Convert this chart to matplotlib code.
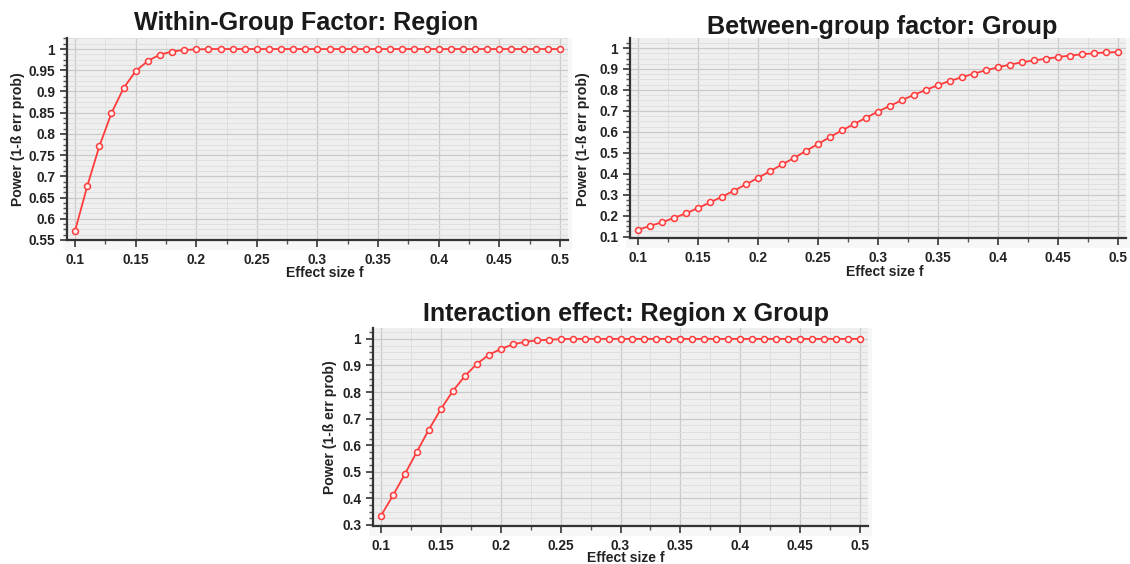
import numpy as np
import matplotlib
matplotlib.use("Agg")
import matplotlib.pyplot as plt
from matplotlib.patches import Rectangle
from matplotlib.ticker import MultipleLocator, AutoMinorLocator, FuncFormatter

plt.rcParams['font.family'] = ['Liberation Sans', 'DejaVu Sans']
plt.rcParams['font.weight'] = 'bold'

effect_size = [round(0.10 + 0.01 * i, 2) for i in range(41)]

power_region = [0.572, 0.677, 0.771, 0.849, 0.908, 0.948, 0.972, 0.987, 0.994, 0.998, 0.999] + [1.0] * 30

power_group = [0.132, 0.151, 0.168, 0.189, 0.211, 0.236, 0.263, 0.290, 0.319, 0.349,
               0.380, 0.412, 0.444, 0.475, 0.509, 0.542, 0.575, 0.607, 0.637, 0.667,
               0.697, 0.724, 0.751, 0.777, 0.800, 0.823, 0.843, 0.861, 0.878, 0.894,
               0.908, 0.921, 0.932, 0.941, 0.949, 0.957, 0.964, 0.970, 0.975, 0.979, 0.981]

power_interaction = [0.335, 0.411, 0.492, 0.576, 0.659, 0.736, 0.804, 0.860, 0.906, 0.940,
                     0.962, 0.979, 0.989, 0.994, 0.997, 0.999] + [1.0] * 25

titles = ["Within-Group Factor: Region", "Between-group factor: Group", "Interaction effect: Region x Group"]
xlabel = "Effect size f"
ylabel = "Power (1-ß err prob)"

W, H = 1130, 564
fig = plt.figure(figsize=(W / 100, H / 100), dpi=100)
fig.patch.set_facecolor('white')

def fx(px):
    return px / W

def fy(py):
    return 1 - py / H

panels = [
    dict(box=(67, 568, 38, 240), ylim=(0.55, 1.026), ymaj=0.05, data=power_region,
         title=(306, 30), xl=(325, 273), yl=(18, 139)),
    dict(box=(630, 1126, 38, 238), ylim=(0.093, 1.048), ymaj=0.1, data=power_group,
         title=(882, 34), xl=(885, 272), yl=(583, 139)),
    dict(box=(373, 868, 328, 526), ylim=(0.296, 1.041), ymaj=0.1, data=power_interaction,
         title=(626, 321), xl=(626, 558), yl=(330, 427)),
]

def fmt(v, pos):
    return f"{v:.2f}".rstrip('0').rstrip('.')

for i, p in enumerate(panels):
    l, r, t, b = p['box']
    # lighter frame around the plot area
    fig.patches.append(Rectangle((fx(l - 4), fy(b + 10)), fx(r + 4) - fx(l - 4), fy(t) - fy(b + 10),
                                 transform=fig.transFigure, facecolor='#f7f7f7',
                                 edgecolor='none', zorder=-5))
    ax = fig.add_axes([fx(l), fy(b), fx(r) - fx(l), fy(t) - fy(b)])
    ax.set_zorder(2)
    ax.set_facecolor('#efefef')
    ax.plot(effect_size, p['data'], color='#ff3b3b', lw=1.3, marker='o', ms=4.3,
            mfc='#fff0f0', mec='#ff3b3b', mew=1.1, zorder=3, clip_on=False)
    ax.set_xlim(0.0933, 0.5067)
    ax.set_ylim(*p['ylim'])
    ax.xaxis.set_major_locator(MultipleLocator(0.05))
    ax.xaxis.set_minor_locator(AutoMinorLocator(2))
    ax.yaxis.set_major_locator(MultipleLocator(p['ymaj']))
    ax.yaxis.set_minor_locator(AutoMinorLocator(4))
    ax.xaxis.set_major_formatter(FuncFormatter(fmt))
    ax.yaxis.set_major_formatter(FuncFormatter(fmt))
    ax.grid(which='major', color='#cacaca', lw=0.9)
    ax.grid(which='minor', color='#dfdfdf', lw=0.7)
    ax.set_axisbelow(True)
    for s in ['top', 'right']:
        ax.spines[s].set_visible(False)
    for s in ['left', 'bottom']:
        ax.spines[s].set_color('#333333')
        ax.spines[s].set_linewidth(1.6)
    ax.tick_params(which='major', length=5, width=1.2, color='#333333', labelsize=9.9,
                   labelcolor='#222222', pad=3.5)
    ax.tick_params(axis='x', which='major', pad=4.5)
    ax.tick_params(which='minor', length=3, width=1.0, color='#555555')
    for lab in ax.get_xticklabels() + ax.get_yticklabels():
        lab.set_fontweight('bold')
    tx, ty = p['title']
    fig.text(fx(tx), fy(ty), titles[i], ha='center', va='baseline', fontsize=18.1,
             fontweight='bold', color='#1a1a1a')
    xx, xy = p['xl']
    fig.text(fx(xx), fy(xy), xlabel, ha='center', va='center', fontsize=10.1,
             fontweight='bold', color='#222222')
    yx, yy = p['yl']
    fig.text(fx(yx), fy(yy), ylabel, ha='center', va='center', fontsize=10.1,
             fontweight='bold', color='#222222', rotation=90)

fig.savefig('out.png', dpi=100, facecolor='white')
